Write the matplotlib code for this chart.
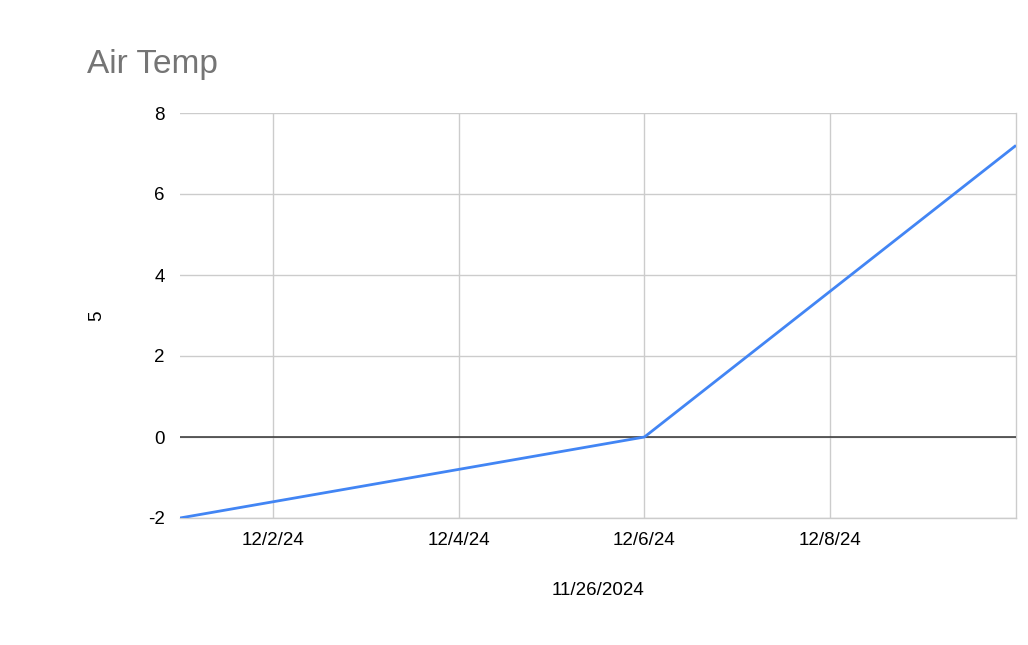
import datetime as dt
import matplotlib
matplotlib.use('Agg')
import matplotlib.pyplot as plt
import matplotlib.dates as mdates
from matplotlib.ticker import FuncFormatter

# data
dates = ['2024-12-01', '2024-12-06', '2024-12-10']
air_temp = [-2, 0, 7.2]
x_ticks = ['2024-12-02', '2024-12-04', '2024-12-06', '2024-12-08']
y_ticks = [-2, 0, 2, 4, 6, 8]

plt.rcParams['font.family'] = ['Liberation Sans', 'DejaVu Sans']
plt.rcParams['axes.unicode_minus'] = False

days = [dt.datetime.strptime(d, '%Y-%m-%d') for d in dates]
tick_days = [dt.datetime.strptime(d, '%Y-%m-%d') for d in x_ticks]

fig = plt.figure(figsize=(10.28, 6.45), dpi=100)
ax = fig.add_axes([180 / 1028, 1 - 518 / 645, (1016 - 180) / 1028, (518 - 113) / 645])

ax.plot(days, air_temp, color='#4285f4', linewidth=2.0, zorder=3, solid_capstyle='butt')
ax.axhline(0, color='#333333', linewidth=1.1, zorder=2)

ax.set_xlim(days[0], days[-1])
ax.set_ylim(-2, 8)
ax.set_yticks(y_ticks)
ax.set_xticks(tick_days)
ax.xaxis.set_major_formatter(FuncFormatter(
    lambda v, pos: (lambda d: f'{d.month}/{d.day}/{d:%y}')(mdates.num2date(v))))

ax.grid(True, color='#cccccc', linewidth=1.0, zorder=1)
for side in ['left', 'top']:
    ax.spines[side].set_visible(False)
for side in ['right', 'bottom']:
    ax.spines[side].set_color('#cccccc')
    ax.spines[side].set_linewidth(1.0)
    ax.spines[side].set_zorder(1)
ax.tick_params(length=0, labelsize=13.5, colors='#000000')
ax.tick_params(axis='y', pad=11)
ax.tick_params(axis='x', pad=10)

ax.set_ylabel('5', fontsize=13.5, labelpad=31)
ax.set_xlabel('11/26/2024', fontsize=13.5, labelpad=24)

fig.text(87 / 1028, 1 - 64 / 645, 'Air Temp', color='#757575', fontsize=24, ha='left', va='center')

fig.savefig('out.png', dpi=100)
